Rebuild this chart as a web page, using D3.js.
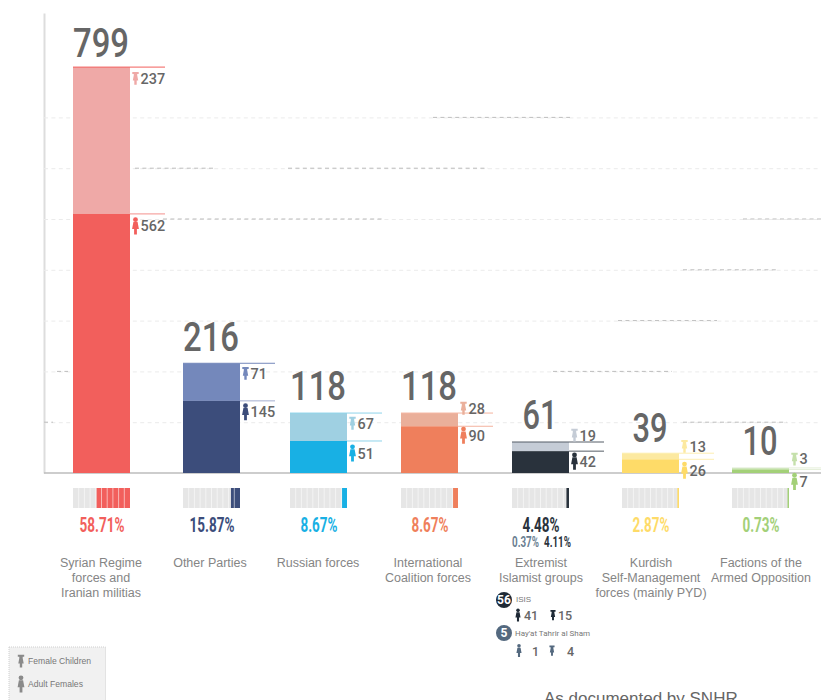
<!DOCTYPE html>
<html><head><meta charset="utf-8">
<script src="https://cdnjs.cloudflare.com/ajax/libs/d3/7.8.5/d3.min.js"></script>
<style>html,body{margin:0;padding:0;background:#fff;overflow:hidden}svg{display:block}</style>
</head><body><svg id="c" width="821" height="700"></svg>
<script>
// ---- data ----
const categories = ["Syrian Regime forces and Iranian militias","Other Parties","Russian forces","International Coalition forces","Extremist Islamist groups","Kurdish Self-Management forces (mainly PYD)","Factions of the Armed Opposition"];
const categoryLines = [["Syrian Regime","forces and","Iranian militias"],["Other Parties"],["Russian forces"],["International","Coalition forces"],["Extremist","Islamist groups"],["Kurdish","Self-Management","forces (mainly PYD)"],["Factions of the","Armed Opposition"]];
const totals = [799,216,118,118,61,39,10];
const femaleChildren = [237,71,67,28,19,13,3];
const adultFemales = [562,145,51,90,42,26,7];
const drawnAdultHeight = [510,142,63,92,43,27,7]; // where the picture splits each bar
const percents = [58.71,15.87,8.67,8.67,4.48,2.87,0.73];
const gridTicks = [100,200,300,400,500,600,700];
const extremistNames = ["ISIS","Hay'at Tahrir al Sham"];
const extremistTotals = [56,5];
const extremistAdults = [41,1];
const extremistChildren = [15,4];
const subPercents = ["0.37%","4.11%"];

// ---- layout / style ----
const darkColors = ["#f25f5c","#3c4d7b","#18b0e4","#ef7f5c","#29323c","#fedb68","#a3d078"];
const lightColors = ["#efa9a7","#7488bb","#9fd0e2","#eaaf9a","#c5ccd6","#fce9a0","#c5e0ab"];
const leaderColors = ["#f4908d","#a3aed0","#8fd3ea","#f4b39e","#555d66","#fdeeb0","#e5efd9"];
const barLefts = [73,183,290,401,512,622,732];
const barW = 57;
const totalGap = [10,12,13,13,13,11,13];
const labelCentres = [101,210,318,428,541,651,761];
const childDy = [11,10,10,-5,-7,-7,-9];
const adultDy = [12,11,12,9,10,11,12];
const darkSegments = [[700,433,570],[600,135,215],[600,288,488],[500,163,385],[500,743,821],[400,683,777],[300,618,717],[200,553,672],[200,57,68],[100,683,787],[100,44,53]];
const num = "Roboto, sans-serif", sans = "'Liberation Sans', Arial, sans-serif", narrow = "'Liberation Sans Narrow', 'Roboto', sans-serif";

const svg = d3.select("#c");
const y = d3.scaleLinear().domain([0,905.5]).range([473,13]);
const xLeft = d3.scaleOrdinal(categories, barLefts);
const wPct = d3.scaleLinear().domain([0,100]).range([0,barW]);

// grid + y axis
const gAxis = svg.append("g").attr("transform","translate(44,0)")
  .call(d3.axisLeft(y).tickValues(gridTicks).tickSizeInner(-777).tickSizeOuter(0).tickFormat(""));
gAxis.select(".domain").attr("stroke","#ddd").attr("stroke-width",2);
gAxis.selectAll(".tick line").attr("stroke","#ebebeb").attr("stroke-dasharray","4 3.4");
svg.selectAll("line.dark").data(darkSegments).join("line").attr("class","dark")
  .attr("x1",d=>d[1]).attr("x2",d=>d[2]).attr("y1",d=>y(d[0])).attr("y2",d=>y(d[0]))
  .attr("stroke","#bdbdbd").attr("stroke-dasharray","4 3.4");

// baseline
svg.append("line").attr("x1",44).attr("x2",821).attr("y1",y(0)).attr("y2",y(0)).attr("stroke","#bdbdbd").attr("stroke-width",1.3);

// icons (drawn around a local origin)
function adultIcon(g,cx,cy,color,s=1){
  const i=g.append("g").attr("transform",`translate(${cx},${cy}) scale(${s})`).attr("fill",color);
  i.append("circle").attr("cy",-6.2).attr("r",2.4);
  i.append("path").attr("d","M-2.1,-3.8L2.1,-3.8L3.4,3.2L1.4,3.2L1.4,8.5L-1.4,8.5L-1.4,3.2L-3.4,3.2Z");
}
function childIcon(g,cx,cy,color,s=1){
  const i=g.append("g").attr("transform",`translate(${cx},${cy}) scale(${s})`).attr("fill",color);
  i.append("path").attr("d","M-3.2,-6.2L3.2,-6.2L3.2,-4.2L1.7,-4.2L1.7,-2.8L2.7,2.4L1.2,2.4L1.2,6.6L-1.2,6.6L-1.2,2.4L-2.7,2.4L-1.7,-2.8L-1.7,-4.2L-3.2,-4.2Z");
}
function sideNumber(g,x,yy,v){
  g.append("text").attr("x",x).attr("y",yy).attr("dy","0.36em").attr("font-family",num).attr("font-weight",500).attr("font-size",15.5).attr("fill","#666")
   .attr("textLength",String(v).length*8.2).attr("lengthAdjust","spacingAndGlyphs").text(v);
}

categories.forEach((c,i)=>{
  const x0=xLeft(c), x1=x0+barW, top=y(totals[i]), split=y(drawnAdultHeight[i]), g=svg.append("g");
  g.append("rect").attr("x",x0).attr("y",top).attr("width",barW).attr("height",split-top).attr("fill",lightColors[i]);
  g.append("rect").attr("x",x0).attr("y",split).attr("width",barW).attr("height",y(0)-split).attr("fill",darkColors[i]);
  const end=i===6?821:x1+35;
  g.append("line").attr("x1",x0).attr("x2",end).attr("y1",top).attr("y2",top).attr("stroke",i===0?darkColors[0]:i===1?lightColors[1]:leaderColors[i]);
  g.append("line").attr("x1",x1).attr("x2",end).attr("y1",split).attr("y2",split).attr("stroke",leaderColors[i]);
  // total
  g.append("text").attr("x",x0+barW/2-0.5).attr("y",top-totalGap[i]).attr("text-anchor","middle")
    .attr("font-family",num).attr("font-weight",500).attr("font-size",40).attr("fill","#666")
    .attr("textLength",totals[i]>=100?56:35).attr("lengthAdjust","spacingAndGlyphs").text(totals[i]);
  // side labels
  const cy=top+childDy[i], ay=split+adultDy[i];
  childIcon(g,x1+5.5,cy,lightColors[i]);
  adultIcon(g,x1+5.5,ay,darkColors[i]);
  sideNumber(g,x1+10.5,cy,femaleChildren[i]);
  sideNumber(g,x1+10.5,ay,adultFemales[i]);
  // percent strip
  g.append("rect").attr("x",x0).attr("y",488).attr("width",barW).attr("height",20).attr("fill","#e6e6e6");
  const w=Math.max(wPct(percents[i]),1.5);
  g.append("rect").attr("x",x1-w).attr("y",488).attr("width",w).attr("height",20).attr("fill",darkColors[i]);
  d3.range(1,10).forEach(k=>g.append("line").attr("x1",x0+k*barW/10).attr("x2",x0+k*barW/10).attr("y1",488).attr("y2",508).attr("stroke","#fff").attr("stroke-opacity",0.55));
  // percent text
  g.append("text").attr("x",x0+barW/2+0.5).attr("y",532).attr("text-anchor","middle").attr("font-family",narrow).attr("font-weight",700).attr("font-size",21).attr("fill",darkColors[i])
    .attr("textLength",percents[i]>=10?45:37).attr("lengthAdjust","spacingAndGlyphs").text(percents[i].toFixed(2)+"%");
  // category
  categoryLines[i].forEach((t,k)=>{
    g.append("text").attr("x",labelCentres[i]).attr("y",567+k*15).attr("text-anchor","middle")
     .attr("font-family",sans).attr("font-size",12.5).attr("fill","#858585").text(t);
  });
});

// extremist sub-breakdown
subPercents.forEach((t,i)=>{
  svg.append("text").attr("x",[512,544][i]).attr("y",547).attr("font-family",narrow).attr("font-weight",700).attr("font-size",14)
    .attr("fill",["#6b7f92","#29323c"][i]).attr("textLength",27).attr("lengthAdjust","spacingAndGlyphs").text(t);
});
const subColor=["#1f2a36","#54697f"], subY=[600,633], rowY=[615.5,651], numX=[[524,558],[532,567]], nameX=[516,515], iconX=[[518,553],[519,552]];
extremistNames.forEach((name,i)=>{
  svg.append("circle").attr("cx",504).attr("cy",subY[i]).attr("r",8).attr("fill",subColor[i]);
  svg.append("text").attr("x",504).attr("y",subY[i]).attr("dy","0.36em").attr("text-anchor","middle").attr("font-family",num).attr("font-weight",700).attr("font-size",12).attr("fill","#fff").text(extremistTotals[i]);
  svg.append("text").attr("x",nameX[i]).attr("y",subY[i]-(i?0:1)).attr("dy","0.36em").attr("font-family",i?narrow:sans).attr("font-size",8).attr("fill","#777").text(name);
  adultIcon(svg,iconX[i][0],rowY[i]-0.5,subColor[i],0.75);
  childIcon(svg,iconX[i][1],rowY[i]-0.5,subColor[i],0.8);
  svg.append("text").attr("x",numX[i][0]).attr("y",rowY[i]).attr("dy","0.36em").attr("font-family",num).attr("font-weight",500).attr("font-size",12.5).attr("fill","#666").text(extremistAdults[i]);
  svg.append("text").attr("x",numX[i][1]).attr("y",rowY[i]).attr("dy","0.36em").attr("font-family",num).attr("font-weight",500).attr("font-size",12.5).attr("fill","#666").text(extremistChildren[i]);
});

// legend
svg.append("rect").attr("x",9).attr("y",647).attr("width",96.5).attr("height",60).attr("fill","#f1f1f1").attr("stroke","#cfcfcf").attr("stroke-dasharray","1 1");
childIcon(svg,21,661,"#8a8a8a");
adultIcon(svg,21,684,"#8a8a8a");
svg.append("text").attr("x",28).attr("y",664).attr("font-family",sans).attr("font-size",8.6).attr("fill","#777").text("Female Children");
svg.append("text").attr("x",28).attr("y",687).attr("font-family",sans).attr("font-size",8.6).attr("fill","#777").text("Adult Females");

// source
svg.append("text").attr("x",544).attr("y",704).attr("font-family",sans).attr("font-size",17).attr("fill","#666").text("As documented by SNHR");
</script></body></html>
